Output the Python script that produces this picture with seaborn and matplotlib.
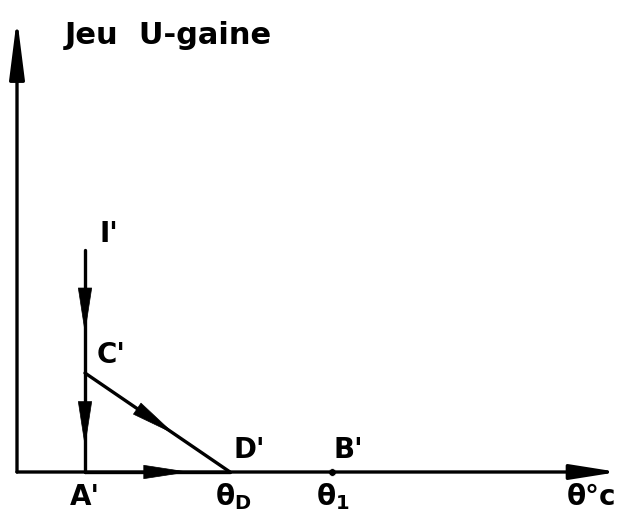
import matplotlib
matplotlib.use("Agg")
import matplotlib.pyplot as plt
import seaborn as sns
import pandas as pd

sns.set_theme(style="white")
plt.rcParams["font.family"] = ["DejaVu Sans"]
plt.rcParams["mathtext.fontset"] = "dejavusans"
plt.rcParams["text.color"] = "black"

# Named points of the diagram (theta on x, U-sheath clearance on y)
point_names = ["I'", "C'", "A'", "D'", "B'"]
point_x = [68, 68, 68, 213, 315]
point_y = [222, 99, 0, 0, 0]

# Path segments drawn with a mid-segment arrowhead: (start, end, arrow position 0..1)
segments = [("I'", "C'", 0.68), ("C'", "A'", 0.75), ("C'", "D'", 0.62), ("A'", "D'", 0.72)]

# Axis extents
x_axis_end = 601
y_axis_end = 454

# Labels along the theta axis
tick_x = [68, 216, 316, 550]
tick_labels = ["A'", r"θ$_\mathbf{D}$", r"θ$_\mathbf{1}$", "θ°c"]

pos = {n: (x, y) for n, x, y in zip(point_names, point_x, point_y)}

fig = plt.figure(figsize=(6.3, 5.27), dpi=100)
ax = fig.add_axes([0, 0, 1, 1])
ax.set_xlim(-17, 613)
ax.set_ylim(-55, 472)
ax.axis("off")

ink = "black"
lw = 2.4

# Axes with arrows
ax.annotate("", xy=(x_axis_end, 0), xytext=(0, 0),
            arrowprops=dict(arrowstyle="-|>,head_length=2.4,head_width=0.38",
                            color=ink, lw=lw, shrinkA=0, shrinkB=0))
ax.annotate("", xy=(0, y_axis_end), xytext=(0, 0),
            arrowprops=dict(arrowstyle="-|>,head_length=3.0,head_width=0.38",
                            color=ink, lw=lw, shrinkA=0, shrinkB=0))

# Path lines
for a, b, t in segments:
    df = pd.DataFrame({"x": [pos[a][0], pos[b][0]], "y": [pos[a][1], pos[b][1]]})
    sns.lineplot(data=df, x="x", y="y", sort=False, estimator=None, color=ink,
                 lw=lw, ax=ax, legend=False)
    x0, y0 = pos[a]
    x1, y1 = pos[b]
    tip = (x0 + (x1 - x0) * t, y0 + (y1 - y0) * t)
    tail = (x0 + (x1 - x0) * (t - 0.05), y0 + (y1 - y0) * (t - 0.05))
    ax.annotate("", xy=tip, xytext=tail,
                arrowprops=dict(arrowstyle="-|>,head_length=2.6,head_width=0.4",
                                color=ink, lw=0.5, shrinkA=0, shrinkB=0))

# Dot at B'
sns.scatterplot(x=[pos["B'"][0]], y=[pos["B'"][1]], color=ink, s=30, ax=ax, legend=False)

fs = 20
fw = "bold"
# Point labels
ax.text(pos["I'"][0] + 14, pos["I'"][1] + 16, "I'", fontsize=fs, fontweight=fw, ha="left", va="center")
ax.text(pos["C'"][0] + 12, pos["C'"][1] + 18, "C'", fontsize=fs, fontweight=fw, ha="left", va="center")
ax.text(pos["D'"][0] + 4, pos["D'"][1] + 22, "D'", fontsize=fs, fontweight=fw, ha="left", va="center")
ax.text(pos["B'"][0] + 2, pos["B'"][1] + 22, "B'", fontsize=fs, fontweight=fw, ha="left", va="center")

# Labels under the axis
for x, lab in zip(tick_x, tick_labels):
    ax.text(x, -25, lab, fontsize=fs, fontweight=fw,
            ha="left" if lab == "θ°c" else "center", va="center")

# Axis title
ax.text(48, 437, "Jeu  U-gaine", fontsize=22, fontweight=fw, ha="left", va="center")

fig.savefig("out.png", dpi=100, facecolor="white")
